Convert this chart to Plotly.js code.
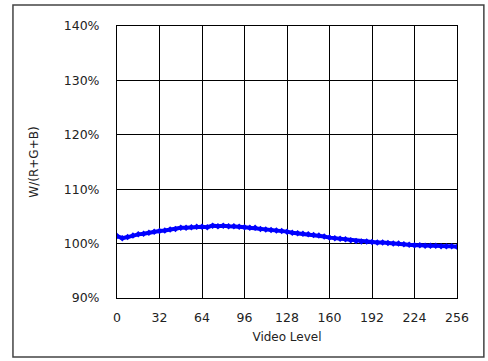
<!DOCTYPE html>
<html><head><meta charset="utf-8">
<script src="https://cdn.plot.ly/plotly-3.0.1.min.js"></script>
<style>html,body{margin:0;padding:0;background:#fff;}</style>
</head><body>
<div id="chart" style="width:488px;height:361px;"></div>
<script>
const videoLevel = [0,4,8,12,16,20,24,28,32,36,40,44,48,52,56,60,64,68,72,76,80,84,88,92,96,100,104,108,112,116,120,124,128,132,136,140,144,148,152,156,160,164,168,172,176,180,184,188,192,196,200,204,208,212,216,220,224,228,232,236,240,244,248,252,256];
const ratioPct = [101.4,101.0,101.2,101.5,101.7,101.8,102.0,102.2,102.3,102.4,102.6,102.7,102.9,102.9,103.0,103.1,103.1,103.0,103.3,103.2,103.3,103.2,103.2,103.1,103.0,102.9,102.9,102.7,102.6,102.5,102.4,102.3,102.2,102.0,101.9,101.8,101.7,101.6,101.5,101.3,101.1,101.0,100.9,100.8,100.6,100.5,100.4,100.4,100.3,100.2,100.2,100.1,100.0,100.0,99.9,99.8,99.7,99.7,99.6,99.6,99.6,99.5,99.5,99.5,99.4];
const xTicks = [0,32,64,96,128,160,192,224,256];
const yTicks = [90,100,110,120,130,140];

const font = {family:'DejaVu Sans, Verdana, sans-serif', size:12, color:'#222'};
Plotly.newPlot('chart', [{
  x: videoLevel, y: ratioPct, type:'scatter', mode:'lines+markers',
  line:{color:'#0000ff', width:4},
  marker:{color:'#0000ff', size:5, symbol:'diamond'},
  hoverinfo:'skip'
}], {
  width:488, height:361,
  margin:{l:117, r:31, t:26, b:63},
  paper_bgcolor:'#fff', plot_bgcolor:'#fff',
  showlegend:false,
  font: font,
  xaxis:{range:[0,256], tickvals:xTicks, ticktext:xTicks.map(String), showgrid:true, gridcolor:'#000', gridwidth:1,
    showline:true, linecolor:'#000', linewidth:1, mirror:true, zeroline:false, ticks:'', ticklabelstandoff:8,
    tickfont:{family:font.family, size:12.5, color:'#222'},
    title:{text:'Video Level', font:font, standoff:8}},
  yaxis:{range:[90,140], tickvals:yTicks, ticktext:yTicks.map(v=>v+'%'), showgrid:true, gridcolor:'#000', gridwidth:1,
    showline:true, linecolor:'#000', linewidth:1, mirror:true, zeroline:false, ticks:'', ticklabelstandoff:14,
    tickfont:{family:font.family, size:12.5, color:'#222'},
    title:{text:'W/(R+G+B)', font:font, standoff:22}},
  shapes:[{type:'rect', xref:'paper', yref:'paper', x0:-0.306, x1:1.079, y0:-0.217, y1:1.077, line:{color:'#444', width:1.5}}]
}, {staticPlot:true});
</script>
</body></html>
